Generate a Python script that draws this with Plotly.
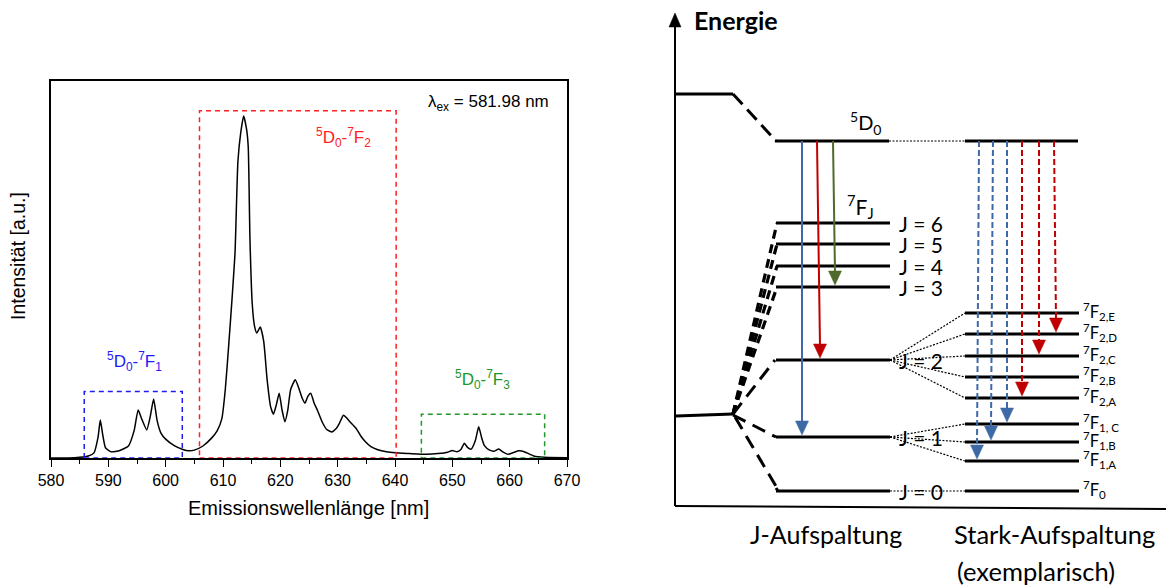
import plotly.graph_objects as go

W, H = 1166, 587

# ---------------- spectrum data ----------------
wavelength = [580.0, 583.0, 585.0, 586.5, 587.5, 588.2, 588.6, 589.0, 589.5, 590.5,
              592.0, 593.5, 594.5, 595.2, 595.8, 596.7, 597.3, 597.9, 598.5, 599.2,
              600.0, 601.5, 603.0, 604.0, 605.0, 606.5, 608.0, 609.0, 609.8, 610.4,
              611.0, 611.6, 612.1, 612.6, 613.1, 613.6, 614.1, 614.4, 614.7, 615.1,
              615.5, 615.9, 616.5, 617.1, 617.7, 618.3, 618.8, 619.3, 619.8, 620.3,
              620.8, 621.3, 621.8, 622.6, 623.3, 623.8, 624.3, 624.8, 625.3, 625.9,
              626.5, 627.3, 628.1, 629.0, 629.7, 630.3, 631.0, 631.5, 632.3, 633.2,
              634.0, 634.8, 635.8, 637.0, 638.5, 640.0, 642.5, 645.5, 647.5, 649.2,
              650.0, 650.8, 651.5, 652.1, 652.7, 653.3, 654.0, 654.6, 655.1, 655.6,
              656.5, 657.3, 658.1, 658.8, 659.7, 660.8, 661.6, 662.3, 663.0, 664.2,
              666.0, 670.0]
intensity = [0.000, 0.000, 0.002, 0.006, 0.015, 0.060, 0.111, 0.070, 0.030, 0.018,
             0.022, 0.035, 0.080, 0.140, 0.115, 0.082, 0.120, 0.172, 0.110, 0.072,
             0.055, 0.036, 0.025, 0.021, 0.023, 0.035, 0.058, 0.080, 0.115, 0.200,
             0.330, 0.470, 0.600, 0.865, 0.950, 0.998, 0.960, 0.908, 0.640, 0.450,
             0.385, 0.365, 0.382, 0.340, 0.228, 0.150, 0.128, 0.155, 0.189, 0.140,
             0.106, 0.140, 0.200, 0.228, 0.200, 0.175, 0.160, 0.180, 0.189, 0.160,
             0.138, 0.105, 0.083, 0.076, 0.085, 0.101, 0.125, 0.118, 0.103, 0.087,
             0.065, 0.048, 0.033, 0.024, 0.018, 0.015, 0.013, 0.011, 0.013, 0.017,
             0.022, 0.018, 0.025, 0.043, 0.030, 0.026, 0.050, 0.091, 0.060, 0.036,
             0.023, 0.020, 0.026, 0.018, 0.011, 0.017, 0.021, 0.020, 0.015, 0.006,
             0.002, 0.001]

x_ticks = [580, 590, 600, 610, 620, 630, 640, 650, 660, 670]

# transition regions (dashed boxes)
band_labels = ["<sup>5</sup>D<sub>0</sub>-<sup>7</sup>F<sub>1</sub>",
               "<sup>5</sup>D<sub>0</sub>-<sup>7</sup>F<sub>2</sub>",
               "<sup>5</sup>D<sub>0</sub>-<sup>7</sup>F<sub>3</sub>"]
band_start = [585.8, 605.9, 644.6]
band_end = [602.9, 640.2, 666.1]
band_top = [0.194, 1.013, 0.128]
band_label_x = [594.5, 631.0, 655.2]
band_label_y = [0.281, 0.934, 0.228]
band_colors = ["#1c1cf5", "#ff2020", "#22962a"]

# ---------------- energy diagram data (diagram units, down = lower energy) ----------------
free_ion_level = 94
ground_level = 415
d0_level = 141
j_labels = ["J = 6", "J = 5", "J = 4", "J = 3", "J = 2", "J = 1", "J = 0"]
j_levels = [223, 244, 266, 287, 360, 437, 491]
stark_labels = ["<sup>7</sup>F<sub>2,E</sub>", "<sup>7</sup>F<sub>2,D</sub>",
                "<sup>7</sup>F<sub>2,C</sub>", "<sup>7</sup>F<sub>2,B</sub>",
                "<sup>7</sup>F<sub>2,A</sub>", "<sup>7</sup>F<sub>1, C</sub>",
                "<sup>7</sup>F<sub>1,B</sub>", "<sup>7</sup>F<sub>1,A</sub>",
                "<sup>7</sup>F<sub>0</sub>"]
stark_levels = [313, 334, 356, 377, 398, 424, 442, 461, 491]
stark_parent = [2, 2, 2, 2, 2, 1, 1, 1, 0]

# J-splitting transitions (solid): start x, end x, target level, colour
j_arrow_x0 = [802, 817, 833]
j_arrow_x1 = [802, 820, 835]
j_arrow_target = [437, 360, 287]
j_arrow_color = ["#3d6aa6", "#c00000", "#4f6a2a"]
# Stark transitions (dashed)
s_arrow_x0 = [979, 993, 1007, 1022, 1039, 1054]
s_arrow_x1 = [977, 991, 1007, 1022, 1039, 1056]
s_arrow_target = [461, 442, 424, 398, 356, 334]
s_arrow_color = ["#3d6aa6", "#3d6aa6", "#3d6aa6", "#c00000", "#c00000", "#c00000"]

fig = go.Figure()

fig.add_trace(go.Scatter(x=wavelength, y=intensity, mode="lines",
                         line=dict(color="black", width=1.5, shape="spline", smoothing=0.5),
                         xaxis="x", yaxis="y", showlegend=False, hoverinfo="skip"))

shapes = []
annotations = []
AR = "Liberation Sans, Arial, sans-serif"
CAL = "Lato, Carlito, Calibri, sans-serif"


def note(text, x, y, xref, yref, size, family, color="black", xa="center", ya="middle", angle=0):
    annotations.append(dict(text=text, x=x, y=y, xref=xref, yref=yref, xanchor=xa,
                            yanchor=ya, showarrow=False, textangle=angle,
                            font=dict(family=family, size=size, color=color)))


for x0, x1, top, c in zip(band_start, band_end, band_top, band_colors):
    shapes.append(dict(type="rect", xref="x", yref="y", x0=x0, x1=x1, y0=0, y1=top,
                       line=dict(color=c, width=1.5, dash="5px,4px"), layer="above"))
for t, x, y, c in zip(band_labels, band_label_x, band_label_y, band_colors):
    note(t, x, y, "x", "y", 17, AR, c)

note("λ<sub>ex</sub> = 581.98 nm", 551 / W, 1 - 103 / H, "paper", "paper", 17, AR, xa="right")
note("Emissionswellenlänge [nm]", 308 / W, 1 - 508 / H, "paper", "paper", 20, AR)
note("Intensität [a.u.]", 18 / W, 1 - 256 / H, "paper", "paper", 19.5, AR, angle=-90)

# ---------------- diagram ----------------
def line(x0, y0, x1, y1, width=3, dash="solid", color="black"):
    shapes.append(dict(type="line", xref="x2", yref="y2", x0=x0, y0=y0, x1=x1, y1=y1,
                       line=dict(color=color, width=width, dash=dash)))


def tri(xt, yt, color, half=6.5, h=14, up=False):
    s = -1 if up else 1
    shapes.append(dict(type="path", xref="x2", yref="y2",
                       path=f"M {xt-half},{yt - s*h} L {xt+half},{yt - s*h} L {xt},{yt} Z",
                       fillcolor=color, line=dict(color=color, width=0.5)))


# energy axis
line(675, 506, 675, 24, width=2)
tri(675, 13, "black", half=6, h=14, up=True)
line(675, 506, 1166, 509, width=2)

# free ion / splitting
line(676, free_ion_level, 733, free_ion_level)
line(733, free_ion_level, 776, d0_level, width=3, dash="14px,7px")
line(775, d0_level, 889, d0_level)
line(889, d0_level, 965, d0_level, width=1.2, dash="2px,1.5px")
line(965, d0_level, 1078, d0_level)

line(676, ground_level + 1, 733, ground_level - 1)
for lv in j_levels:
    line(776, lv, 890, lv)
# dashed connectors ground -> J manifolds
for lv in j_levels[:4]:
    line(733, ground_level - 1, 777, lv, width=3.2, dash="9px,6px")
line(733, ground_level - 1, 775, j_levels[4], width=3, dash="14px,8px")
line(733, ground_level, 776, j_levels[5], width=3, dash="14px,8px")
line(735, ground_level + 2, 777, j_levels[6] - 3, width=3, dash="14px,8px")
line(776, j_levels[6] - 3, 778, j_levels[6], width=3)

for lab, lv in zip(j_labels, j_levels):
    note(lab, 897, lv, "x2", "y2", 21, CAL, xa="left")

# Stark levels and fan lines
parent_y = {2: j_levels[4], 1: j_levels[5], 0: j_levels[6]}
for lab, lv, par in zip(stark_labels, stark_levels, stark_parent):
    line(965, lv, 1079, lv)
    line(890, parent_y[par], 965, lv, width=1.2, dash="2px,1.5px")
    note(lab, 1081, lv - 2, "x2", "y2", 16.5, CAL, xa="left")

# transitions
for x0, x1, tgt, c in zip(j_arrow_x0, j_arrow_x1, j_arrow_target, j_arrow_color):
    line(x0, d0_level, x1, tgt - 14, width=2, color=c)
    tri(x1, tgt - 2, c)
for x0, x1, tgt, c in zip(s_arrow_x0, s_arrow_x1, s_arrow_target, s_arrow_color):
    line(x0, d0_level, x1, tgt - 14, width=2, color=c, dash="6px,3px")
    tri(x1, tgt - 2, c)

diag_text = [
    ("<b>Energie</b>", 692, 20, "left", 25),
    ("<sup>5</sup>D<sub>0</sub>", 865, 123, "center", 20),
    ("<sup>7</sup>F<sub>J</sub>", 860, 206, "center", 21),
    ("J-Aufspaltung", 826, 534, "center", 25),
    ("Stark-Aufspaltung", 1054, 534, "center", 25.5),
    ("(exemplarisch)", 1036, 571, "center", 25.5),
]
for t, x, y, xa, s in diag_text:
    note(t, x, y, "x2", "y2", s, CAL, xa=xa)

fig.update_layout(
    width=W, height=H, margin=dict(l=0, r=0, t=0, b=0, autoexpand=False),
    paper_bgcolor="white", plot_bgcolor="rgba(0,0,0,0)",
    showlegend=False,
    xaxis=dict(domain=[51 / W, 567 / W], range=[580, 670], tickvals=x_ticks,
               ticks="outside", ticklen=7, tickwidth=1.3, tickcolor="black",
               showline=True, linecolor="black", linewidth=1.5, mirror=True,
               showgrid=False, zeroline=False, anchor="y", automargin=False,
               tickfont=dict(family=AR, size=16, color="black"),
               minor=dict(dtick=5, tick0=580, ticks="outside", ticklen=4, tickcolor="black",
                          tickwidth=1.2)),
    yaxis=dict(domain=[1 - 458 / H, 1 - 81 / H], range=[0, 1.1], showticklabels=False,
               ticks="", showline=True, linecolor="black", linewidth=1.5, mirror=True,
               showgrid=False, zeroline=False, anchor="x", automargin=False),
    xaxis2=dict(domain=[583 / W, 1], range=[583, W], visible=False, anchor="y2",
                automargin=False),
    yaxis2=dict(domain=[0, 1], range=[H, 0], visible=False, anchor="x2", automargin=False),
    shapes=shapes, annotations=annotations,
)

fig.write_html("out.html")
